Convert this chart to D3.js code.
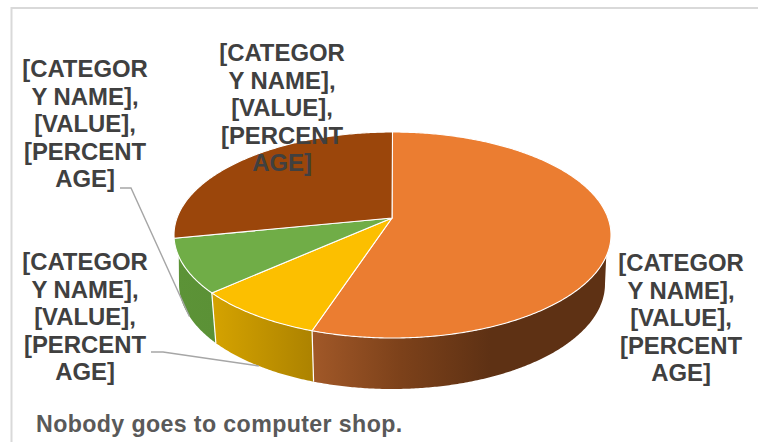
<!DOCTYPE html>
<html>
<head>
<meta charset="utf-8">
<script src="https://cdn.jsdelivr.net/npm/d3@7/dist/d3.min.js"></script>
<style>
  html, body { margin: 0; padding: 0; background: #fff; }
  svg { display: block; }
  text { font-family: "Liberation Sans", Arial, sans-serif; font-weight: bold; }
</style>
</head>
<body>
<svg id="chart" width="758" height="442"></svg>
<script>
// Slice shares, clockwise from twelve o'clock
const sliceIds = ["orange", "gold", "green", "rust"];
const sliceValues = [56, 9.5, 9, 25.5];
const topColors = ["#eb7d31", "#fcbf00", "#70ad47", "#9b460b"];
const labelLines = ["[CATEGOR", "Y NAME],", "[VALUE],", "[PERCENT", "AGE]"];
const titleText = "Nobody goes to computer shop.";

const svg = d3.select("#chart");
const defs = svg.append("defs");

// Projection of the unit circle onto the tilted top face and the lower rim
const topX = d3.scaleLinear().domain([-1, 1]).range([174, 611]);
const topY = d3.scaleLinear().domain([-1, 1]).range([132, 338]);
const lowX = d3.scaleLinear().domain([-1, 1]).range([179, 605]);
const lowY = d3.scaleLinear().domain([-1, 1]).range([179, 389]);
const apex = [392, 218];

const onTop = a => [topX(Math.sin(a)), topY(-Math.cos(a))];
const onLow = a => [lowX(Math.sin(a)), lowY(-Math.cos(a))];
const sweep = (a0, a1) => {
  const n = Math.max(2, Math.ceil(Math.abs(a1 - a0) / 0.01));
  return d3.range(n + 1).map(i => a0 + (a1 - a0) * i / n);
};
const line = d3.line();
const rad = d => d * Math.PI / 180;

const arcs = d3.pie().sort(null).value(d => d)(sliceValues);

// Frame: only the top and left edges show
svg.append("path")
  .attr("d", "M758,8H11.5V442")
  .attr("fill", "none")
  .attr("stroke", "#d9d9d9")
  .attr("stroke-width", 2);

// Side wall shading runs left to right across each visible piece
function wallGradient(id, x1, x2, stops) {
  const g = defs.append("linearGradient")
    .attr("id", id)
    .attr("gradientUnits", "userSpaceOnUse")
    .attr("x1", x1).attr("x2", x2).attr("y1", 0).attr("y2", 0);
  stops.forEach(([o, c]) => g.append("stop").attr("offset", o).attr("stop-color", c));
}
wallGradient("wall-orange", 313, 490, [[0, "#a15828"], [0.5, "#7c411a"], [1, "#5e3114"]]);
wallGradient("wall-gold", 212, 314, [[0, "#d5a300"], [1, "#ac8200"]]);
wallGradient("wall-green", 176, 214, [[0, "#5c9337"], [1, "#5b9136"]]);

// Walls of the three slices that face the viewer
const silhouette = { right: [rad(102), rad(90)], left: [rad(258), rad(270)] };
const walls = [
  { i: 0, from: silhouette.right, to: arcs[0].endAngle, fill: "url(#wall-orange)" },
  { i: 1, from: [arcs[1].startAngle, arcs[1].startAngle], to: arcs[1].endAngle, fill: "url(#wall-gold)" },
  { i: 2, from: [arcs[2].startAngle, arcs[2].startAngle], to: silhouette.left, fill: "url(#wall-green)" }
];
walls.forEach(w => {
  const [topStart, lowStart] = w.from;
  const [topEnd, lowEnd] = Array.isArray(w.to) ? w.to : [w.to, w.to];
  const pts = sweep(topStart, topEnd).map(onTop)
    .concat(sweep(lowEnd, lowStart).map(onLow));
  svg.append("path").attr("d", line(pts) + "Z").attr("fill", w.fill);
});

// White seams between neighbouring walls
[arcs[0].endAngle, arcs[1].endAngle].forEach(a => {
  svg.append("path")
    .attr("d", line([onTop(a), onLow(a)]))
    .attr("stroke", "#fff").attr("stroke-width", 1.2).attr("fill", "none");
});

// Top face, with all slices meeting at the apex
svg.selectAll("path.slice")
  .data(arcs)
  .join("path")
  .attr("class", "slice")
  .attr("d", d => line([apex].concat(sweep(d.startAngle, d.endAngle).map(onTop))) + "Z")
  .attr("fill", (d, i) => topColors[i])
  .attr("stroke", "#fff")
  .attr("stroke-width", 1.1)
  .attr("stroke-linejoin", "round");

// Leader lines for the two narrow slices
const midAngle = d => (d.startAngle + d.endAngle) / 2;
const leaders = [
  [[120, 188], [131, 188], onLow(midAngle(arcs[2]))],
  [[151, 352], [163, 352], onLow(midAngle(arcs[1]))]
];
svg.selectAll("path.leader")
  .data(leaders)
  .join("path")
  .attr("class", "leader")
  .attr("d", d => line(d))
  .attr("fill", "none")
  .attr("stroke", "#a6a6a6")
  .attr("stroke-width", 1.4);

// Data labels, wrapped mid-word by their narrow boxes
const labelSpots = [
  { x: 681, y: 271 },
  { x: 85, y: 270 },
  { x: 85, y: 77 },
  { x: 282, y: 61 }
];
labelSpots.forEach(spot => {
  svg.append("text")
    .attr("text-anchor", "middle")
    .attr("font-size", 23.9)
    .attr("fill", "#404040")
    .selectAll("tspan")
    .data(labelLines)
    .join("tspan")
    .attr("x", spot.x)
    .attr("y", (d, i) => spot.y + i * 27.5)
    .text(d => d);
});

svg.append("text")
  .attr("x", 36)
  .attr("y", 432)
  .attr("font-size", 23.2)
  .attr("letter-spacing", 0.38)
  .attr("fill", "#595959")
  .text(titleText);
</script>
</body>
</html>
